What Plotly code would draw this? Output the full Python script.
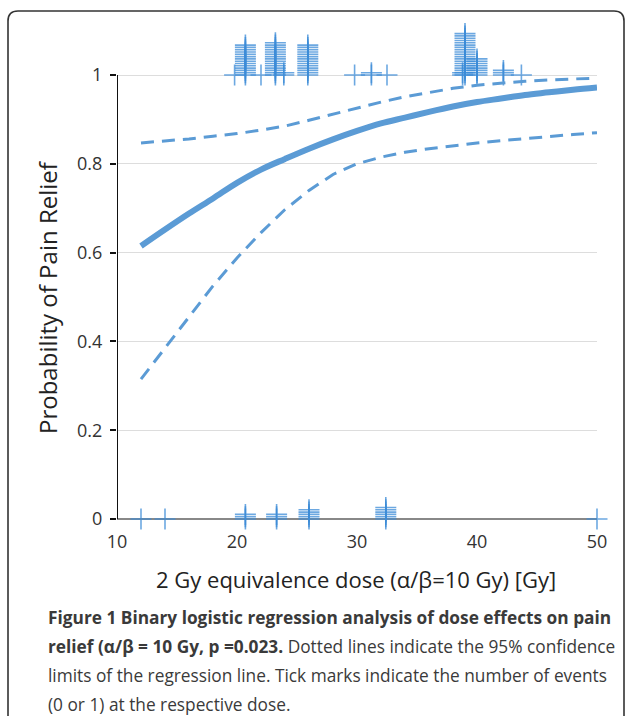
import plotly.graph_objects as go

# ---- data ----
dose_curve = [12, 14, 16, 18, 20, 22, 24, 26, 28, 30, 32, 34, 36, 38, 40, 42, 44, 46, 48, 50]
prob_fit = [0.615, 0.652, 0.688, 0.722, 0.757, 0.787, 0.811, 0.834, 0.855, 0.874,
            0.891, 0.904, 0.917, 0.929, 0.939, 0.947, 0.955, 0.961, 0.967, 0.972]
ci_upper = [0.847, 0.851, 0.856, 0.862, 0.868, 0.876, 0.885, 0.898, 0.912, 0.926,
            0.939, 0.951, 0.961, 0.970, 0.977, 0.982, 0.986, 0.989, 0.991, 0.993]
ci_lower = [0.315, 0.385, 0.455, 0.525, 0.588, 0.645, 0.697, 0.740, 0.776, 0.800,
            0.815, 0.826, 0.834, 0.841, 0.847, 0.852, 0.857, 0.861, 0.866, 0.870]

# events = 1 (pain relief) : dose and number of patients
relief_dose = [19.8, 20.7, 22.0, 23.2, 23.9, 25.9, 29.8, 31.2, 32.5, 38.8, 39.0, 40.0, 42.2, 43.7]
relief_count = [1, 14, 1, 15, 2, 14, 1, 2, 1, 2, 19, 8, 3, 1]
# events = 0 (no relief)
norelief_dose = [12.0, 14.0, 20.7, 23.3, 26.0, 32.4, 50.0]
norelief_count = [1, 1, 3, 3, 5, 6, 1]

x_ticks = [10, 20, 30, 40, 50]
y_ticks = [0, 0.2, 0.4, 0.6, 0.8, 1]
y_tick_text = ["0", "0.2", "0.4", "0.6", "0.8", "1"]

caption_lines = [
    "<b>Figure 1 Binary logistic regression analysis of dose effects on pain</b>",
    "<b>relief (α/β = 10 Gy, p =0.023.</b> Dotted lines indicate the 95% confidence",
    "limits of the regression line. Tick marks indicate the number of events",
    "(0 or 1) at the respective dose.",
]

# ---- geometry (pixels, in reference-image coordinates) ----
W, H = 629, 716
L, R, T, B = 117, 597, 31, 519   # plot area
Y1_PX = 75
ppu = (B - Y1_PX)  # pixels per unit probability
ytop = (B - T) / ppu
step = 2.3 / ppu

def px_to_paper_x(px):
    return (px - L) / (R - L)

def px_to_paper_y(py):
    return (B - py) / (B - T)

LINE = "#5B9BD5"
MARK = "#3C8CD8"

fig = go.Figure()

def stack(doses, counts, base):
    xs, ys = [], []
    for d, n in zip(doses, counts):
        for k in range(n):
            xs.append(d)
            ys.append(base + k * step)
    return xs, ys

for doses, counts, base in [(relief_dose, relief_count, 1.0), (norelief_dose, norelief_count, 0.0)]:
    xs, ys = stack(doses, counts, base)
    fig.add_trace(go.Scatter(
        x=xs, y=ys, mode="markers", cliponaxis=False,
        marker=dict(symbol="cross-thin", size=15, opacity=0.75,
                    line=dict(color=MARK, width=1.6)),
        showlegend=False, hoverinfo="skip"))

fig.add_trace(go.Scatter(x=dose_curve, y=ci_upper, mode="lines",
                         line=dict(color=LINE, width=3, dash="13px,8px"), showlegend=False))
fig.add_trace(go.Scatter(x=dose_curve, y=ci_lower, mode="lines",
                         line=dict(color=LINE, width=3, dash="13px,8px"), showlegend=False))
fig.add_trace(go.Scatter(x=dose_curve, y=prob_fit, mode="lines",
                         line=dict(color=LINE, width=6, shape="spline"), showlegend=False))

# y axis line only up to 1
fig.add_shape(type="line", x0=10, x1=10, y0=0, y1=1, xref="x", yref="y",
              line=dict(color="#111", width=2), layer="above")

# rounded border box
x0p, x1p, y0p, y1p, r = 8, 624, 11, 740, 10
def P(px, py):
    return f"{px_to_paper_x(px):.5f},{px_to_paper_y(py):.5f}"
path = (f"M {P(x0p, y1p)} L {P(x0p, y0p + r)} Q {P(x0p, y0p)} {P(x0p + r, y0p)} "
        f"L {P(x1p - r, y0p)} Q {P(x1p, y0p)} {P(x1p, y0p + r)} L {P(x1p, y1p)}")
fig.add_shape(type="path", path=path, xref="paper", yref="paper",
              line=dict(color="#333", width=1.6))

ann = []
ann.append(dict(text="Probability of Pain Relief", textangle=-90,
                x=px_to_paper_x(47), y=px_to_paper_y(297), xref="paper", yref="paper",
                xanchor="center", yanchor="middle",
                showarrow=False, font=dict(size=24, color="#222", family="Open Sans")))
ann.append(dict(text="2 Gy equivalence dose (α/β=10 Gy) [Gy]",
                x=px_to_paper_x(356), y=px_to_paper_y(579), xref="paper", yref="paper",
                xanchor="center", yanchor="middle",
                showarrow=False, font=dict(size=22, color="#222", family="Open Sans")))
for i, t in enumerate(caption_lines):
    ann.append(dict(text=t, x=px_to_paper_x(46), y=px_to_paper_y(617 + 29.3 * i),
                    xref="paper", yref="paper", xanchor="left", yanchor="middle",
                    showarrow=False,
                    font=dict(size=17.3, color="#3a3a3a", family="Open Sans")))

fig.update_layout(
    width=W, height=H,
    margin=dict(l=L, r=W - R, t=T, b=H - B),
    paper_bgcolor="white", plot_bgcolor="white",
    annotations=ann,
    xaxis=dict(range=[10, 50], tickvals=x_ticks, ticks="", showgrid=False,
               showline=False, zeroline=False, ticklabelstandoff=10,
               tickfont=dict(size=18, color="#333", family="Open Sans")),
    yaxis=dict(range=[0, ytop], tickvals=y_ticks, ticktext=y_tick_text,
               ticks="outside", ticklen=6, tickwidth=1.5, tickcolor="#111",
               ticklabelstandoff=4,
               showgrid=True, gridcolor="#DDDDDD", gridwidth=1,
               showline=False, zeroline=True, zerolinecolor="#888", zerolinewidth=1.5,
               tickfont=dict(size=18, color="#333", family="Open Sans")),
)

fig.write_html(
    "out.html",
    config={"displayModeBar": False},
    post_script="document.body.style.margin='0';"
                "document.body.style.overflow='hidden';"
                "document.documentElement.style.overflow='hidden';",
)
